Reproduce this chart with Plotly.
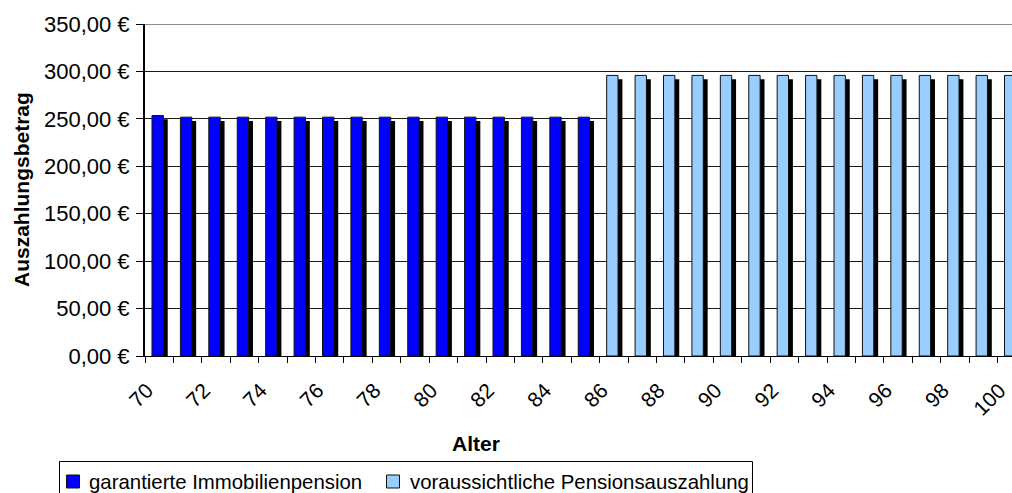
import plotly.graph_objects as go

# Ages and monthly payout amounts (EUR)
alter_garantiert = [70, 71, 72, 73, 74, 75, 76, 77, 78, 79, 80, 81, 82, 83, 84, 85]
betrag_garantiert = [253.5, 251.8, 251.8, 251.8, 251.8, 251.8, 251.8, 251.8,
                     251.8, 251.8, 251.8, 251.8, 251.8, 251.8, 251.8, 251.8]

alter_voraus = [86, 87, 88, 89, 90, 91, 92, 93, 94, 95, 96, 97, 98, 99, 100]
betrag_voraus = [295.8, 295.8, 295.8, 295.8, 295.8, 295.8, 295.8, 295.8,
                 295.8, 295.8, 295.8, 295.8, 295.8, 295.8, 295.8]

x_tick_labels = [70, 72, 74, 76, 78, 80, 82, 84, 86, 88, 90, 92, 94, 96, 98, 100]

FONT = "Liberation Sans, Arial, sans-serif"
SHADOW_DROP = 4.0  # shadow sits slightly lower than the bar top

W, H = 1012, 493
M_L, M_R, M_T, M_B = 145, 0, 24, 137
PLOT_W = W - M_L - M_R
PLOT_H = H - M_T - M_B


def px_x(px):
    """pixel column -> paper x"""
    return (px - M_L) / PLOT_W


def px_y(py):
    """pixel row -> paper y"""
    return (H - M_B - py) / PLOT_H


series = [
    ("garantierte Immobilienpension", alter_garantiert, betrag_garantiert, "#0000FF"),
    ("voraussichtliche Pensionsauszahlung", alter_voraus, betrag_voraus, "#99CCFF"),
]

fig = go.Figure()

# black drop shadows behind the bars
for name, ages, vals, color in series:
    fig.add_bar(
        x=ages, y=[v - SHADOW_DROP for v in vals],
        width=0.4, offset=-0.10,
        marker=dict(color="black", line=dict(width=0)),
        showlegend=False, hoverinfo="skip",
    )

# the actual bars
for name, ages, vals, color in series:
    fig.add_bar(
        x=ages, y=vals, name=name,
        width=0.4, offset=-0.254,
        marker=dict(color=color, line=dict(color="#111111", width=1)),
        showlegend=False,
    )

boundaries = [a - 0.5 for a in alter_garantiert + alter_voraus] + [100.5]

# legend box with swatches and labels underneath the chart
shapes = [
    dict(type="line", xref="paper", yref="y", x0=0, x1=1, y0=350, y1=350,
         line=dict(color="#1a1a1a", width=1), layer="below"),
    dict(type="rect", xref="paper", yref="paper",
         x0=px_x(59.5), x1=px_x(752.5), y0=px_y(461.5), y1=px_y(505),
         line=dict(color="black", width=1), fillcolor="white"),
]
legend_items = [
    (series[0][0], series[0][3], 66.5, 88),
    (series[1][0], series[1][3], 386.5, 409),
]
annotations = []
for label, color, sq_left, txt_left in legend_items:
    shapes.append(dict(
        type="rect", xref="paper", yref="paper",
        x0=px_x(sq_left), x1=px_x(sq_left + 13), y0=px_y(475), y1=px_y(488),
        line=dict(color="#111111", width=1), fillcolor=color,
    ))
    annotations.append(dict(
        text=label, xref="paper", yref="paper",
        x=px_x(txt_left), y=px_y(481.5), xanchor="left", yanchor="middle",
        showarrow=False, font=dict(size=20.4), borderpad=0,
    ))

annotations += [
    dict(text="<b>Auszahlungsbetrag</b>", textangle=-90,
         xref="paper", yref="paper", x=px_x(21), y=0.5,
         xanchor="center", yanchor="middle", showarrow=False,
         font=dict(size=21)),
    dict(text="<b>Alter</b>",
         xref="paper", yref="paper", x=px_x(476), y=px_y(443),
         xanchor="center", yanchor="middle", showarrow=False,
         font=dict(size=21)),
]

fig.update_layout(
    width=W, height=H,
    margin=dict(l=M_L, r=M_R, t=M_T, b=M_B, autoexpand=False),
    plot_bgcolor="white", paper_bgcolor="white",
    barmode="overlay",
    separators=",.",
    showlegend=False,
    font=dict(family=FONT, color="black", size=21),
    yaxis=dict(
        range=[0, 350], tick0=0, dtick=50,
        tickformat=".2f", ticksuffix=" €",
        showgrid=True, gridcolor="#1a1a1a", gridwidth=1,
        showline=True, linecolor="black", linewidth=2,
        ticks="outside", ticklen=7, tickcolor="black", tickwidth=1,
        tickfont=dict(size=22), ticklabelstandoff=2, zeroline=False,
    ),
    xaxis=dict(
        range=[69.5, 100.01],
        tickmode="array", tickvals=x_tick_labels,
        ticktext=[str(v) for v in x_tick_labels],
        ticks="", tickangle=-45, tickfont=dict(size=21),
        ticklabelstandoff=13, ticklabelshift=-12, ticklabeloverflow="allow",
        minor=dict(tickmode="array", tickvals=boundaries, ticks="outside",
                   ticklen=6, tickcolor="black", showgrid=False),
        showline=True, linecolor="black", linewidth=1,
        showgrid=False, zeroline=False,
    ),
    shapes=shapes,
    annotations=annotations,
)

fig.write_html("out.html")
